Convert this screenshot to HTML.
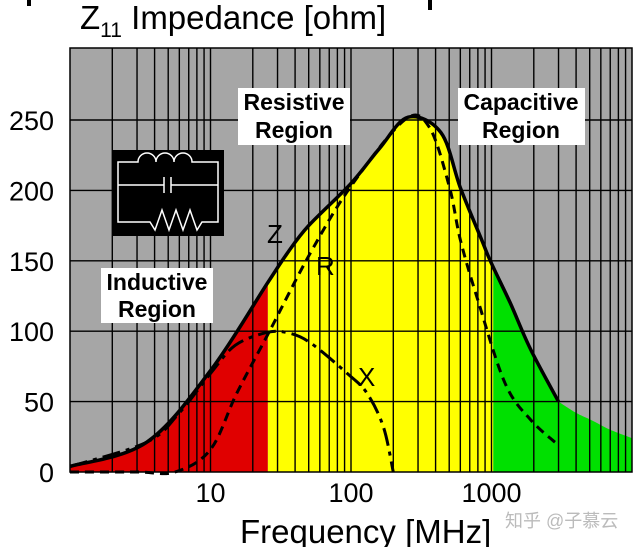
<!DOCTYPE html>
<html><head><meta charset="utf-8"><style>
body{margin:0;background:#fff;width:637px;height:547px;overflow:hidden;font-family:"Liberation Sans",Arial,sans-serif}
svg{display:block}
</style></head><body>
<svg id="chart" width="637" height="547" viewBox="0 0 637 547">
<defs><clipPath id="under"><path id="clipP" d=""/></clipPath></defs>
<g id="bg"></g><g id="fills" clip-path="url(#under)"></g><g id="grid"></g><g id="curves"></g><g id="labels"></g>
</svg>
<script>
const zFreq=[1,3.5,10,25,35,50,100,160,255,437,600,850,980,1360,1900,3000];
const zVal=[4,21,72,133,155,175,205,230,252,241,202,165,150,120,87,50];
const tailFreq=[3000,4000,5100,7000,10000];
const tailVal=[50,42,37,30,24];
const rFreq=[1,3,5.6,10,15.4,26,51,100,240,360,500,600,800,1250,1900,3000];
const rVal=[0,0,0,16,56,99,155,203,250,245,203,165,122,63,37,19];
const xFreq=[1,3.5,6,10,15,25,35,51,94,130,170,200];
const xVal=[4,21,42,70,90,99,99,92,70,56,32,0];
const yTicks=[0,50,100,150,200,250];
const xTicks=[10,100,1000];
const regionEdges=[1,25.6,1030,10000];
const regionColors=['#e00000','#ffff00','#00e000'];

const L=70,R=632,T=48,B=472;
const fx=f=>L+(Math.log10(f))*(R-L)/4;
const fy=v=>B-v*(B-120)/250;
const NS='http://www.w3.org/2000/svg';
function mk(tag,attrs,parent,txt){const e=document.createElementNS(NS,tag);for(const k in attrs)e.setAttribute(k,attrs[k]);if(txt!==undefined)e.textContent=txt;parent.appendChild(e);return e;}
function smooth(pts){let d='M'+pts[0][0].toFixed(1)+','+pts[0][1].toFixed(1);
 for(let i=0;i<pts.length-1;i++){const p0=pts[i-1]||pts[i],p1=pts[i],p2=pts[i+1],p3=pts[i+2]||p2;
  const c1=[p1[0]+(p2[0]-p0[0])/6,p1[1]+(p2[1]-p0[1])/6],c2=[p2[0]-(p3[0]-p1[0])/6,p2[1]-(p3[1]-p1[1])/6];
  d+=' C'+c1.map(v=>v.toFixed(1))+' '+c2.map(v=>v.toFixed(1))+' '+p2[0].toFixed(1)+','+p2[1].toFixed(1);}
 return d;}
const pts=(fs,vs)=>fs.map((f,i)=>[fx(f),fy(vs[i])]);

const bg=document.getElementById('bg');
let e=mk('rect',{x:L,y:T,width:R-L,height:B-T,fill:'#a6a6a6'},bg);


const zp=pts(zFreq,zVal),tp=pts(tailFreq,tailVal);
const fillD=smooth(zp)+' '+smooth(tp).replace('M',' L')+' L'+fx(10000)+','+B+' L'+L+','+B+' Z';
document.getElementById('clipP').setAttribute('d',fillD);
const fills=document.getElementById('fills');
for(let i=0;i<3;i++){
 e=mk('rect',{x:fx(regionEdges[i]),y:T,width:fx(regionEdges[i+1])-fx(regionEdges[i]),height:B-T,fill:regionColors[i]},fills);
 
 
}
const grid=document.getElementById('grid');
for(let d=0;d<4;d++)for(let m=1;m<=9;m++){const f=Math.pow(10,d)*m;if(f<=1)continue;
 e=mk('line',{x1:fx(f),x2:fx(f),y1:T,y2:B,stroke:'#000','stroke-width':1.4},grid);
 }
for(const v of [50,100,150,200,250]){
 e=mk('line',{x1:L,x2:R,y1:fy(v),y2:fy(v),stroke:'#000','stroke-width':1.4},grid);
 }
e=mk('rect',{x:L,y:T,width:R-L,height:B-T,fill:'none',stroke:'#000','stroke-width':1.5},grid);


const cv=document.getElementById('curves');
e=mk('path',{d:smooth(pts(rFreq,rVal)),fill:'none',stroke:'#000','stroke-width':3,'stroke-dasharray':'9,6'},cv);

e=mk('path',{d:smooth(pts(xFreq,xVal)),fill:'none',stroke:'#000','stroke-width':3,'stroke-dasharray':'18,6,4,6'},cv);

e=mk('path',{d:smooth(zp),fill:'none',stroke:'#000','stroke-width':3.5},cv);


const lb=document.getElementById('labels');
for(const v of yTicks){e=mk('text',{x:54,y:fy(v)+10,'text-anchor':'end','font-size':27,fill:'#000'},lb,String(v));
 }
for(const f of xTicks){e=mk('text',{x:fx(f),y:502,'text-anchor':'middle','font-size':27,fill:'#000'},lb,String(f));
 }
</script>
<svg width="637" height="547" style="position:absolute;left:0;top:0">
<text x="240" y="543" font-size="33">Frequency [MHz]</text>
<text x="80" y="29" font-size="33">Z<tspan font-size="21" dy="8">11</tspan><tspan dy="-8"> Impedance [ohm]</tspan></text>
<rect x="27" y="0" width="4" height="6" fill="#000"/><rect x="428" y="0" width="4" height="10" fill="#000"/>
<g><rect x="238" y="88" width="112" height="57" fill="#fff"/>
<text x="294" y="110" font-size="23" font-weight="bold" text-anchor="middle">Resistive</text><text x="294" y="138" font-size="23" font-weight="bold" text-anchor="middle">Region</text></g>
<g><rect x="458" y="88" width="127" height="57" fill="#fff"/>
<text x="521" y="110" font-size="23" font-weight="bold" text-anchor="middle">Capacitive</text><text x="521" y="138" font-size="23" font-weight="bold" text-anchor="middle">Region</text></g>
<g><rect x="101" y="268" width="112" height="55" fill="#fff"/>
<text x="157" y="290" font-size="23" font-weight="bold" text-anchor="middle">Inductive</text><text x="157" y="317" font-size="23" font-weight="bold" text-anchor="middle">Region</text></g>
<g><rect x="112" y="150" width="112" height="86" fill="#000"/>
<g fill="none" stroke="#fff" stroke-width="1.5">
<path d="M118,162 H138 a9,9 0 0 1 18,0 a9,9 0 0 1 18,0 a9,9 0 0 1 18,0 H218 V222 H202 l-5,8 l-7,-20 l-7,20 l-7,-20 l-7,20 l-7,-20 l-7,20 l-5,-8 H118 Z"/>
<path d="M118,185 H164 M171,185 H218 M164,177 V193 M171,177 V193"/></g></g>
<text x="267" y="243" font-size="26">Z</text>
<text x="316" y="275" font-size="26">R</text>
<text x="358" y="386" font-size="26">X</text>
<text x="505" y="527" font-size="18" fill="#bbb" font-family="'Liberation Sans','Noto Sans CJK SC',sans-serif">知乎 @子慕云</text>
</svg>
</body></html>
